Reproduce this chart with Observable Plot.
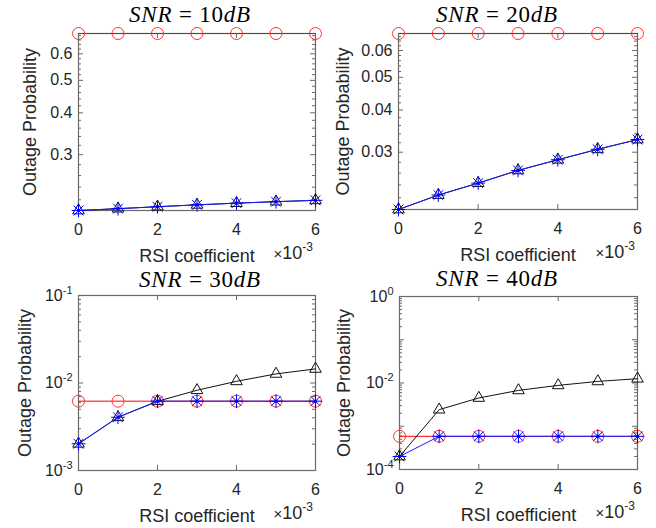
<!DOCTYPE html>
<html>
<head>
<meta charset="utf-8">
<script src="https://cdn.jsdelivr.net/npm/d3@7"></script>
<script src="https://cdn.jsdelivr.net/npm/@observablehq/plot@0.6"></script>
<style>
  body { margin: 0; background: #fff; }
  #fig { position: relative; width: 656px; height: 528px; background: #fff; overflow: hidden; }
  #fig svg { position: absolute; }
</style>
</head>
<body>
<div id="fig"></div>
<script>
// ---------------- data ----------------
const rsiCoef = [0, 1, 2, 3, 4, 5, 6];          // RSI coefficient (x 10^-3)
const xTickValues = [0, 2, 4, 6];
const snrTitles = ["10", "20", "30", "40"];     // SNR in dB

// SNR = 10 dB
const circle10   = [0.69, 0.69, 0.69, 0.69, 0.69, 0.69, 0.69];
const triangle10 = [0.2044, 0.2070, 0.2098, 0.2125, 0.2150, 0.2172, 0.2192];
const star10     = [0.2044, 0.2070, 0.2098, 0.2125, 0.2150, 0.2172, 0.2192];
// SNR = 20 dB
const circle20   = [0.0674, 0.0674, 0.0674, 0.0674, 0.0674, 0.0674, 0.0674];
const triangle20 = [0.0203, 0.0224, 0.0243, 0.0265, 0.0285, 0.0306, 0.0327];
const star20     = [0.0203, 0.0224, 0.0243, 0.0265, 0.0285, 0.0306, 0.0327];
// SNR = 30 dB
const circle30   = [0.0062, 0.0062, 0.0062, 0.0062, 0.0062, 0.0062, 0.0062];
const triangle30 = [0.00202, 0.00406, 0.00618, 0.00826, 0.01045, 0.0127, 0.01449];
const star30     = [0.00202, 0.00406, 0.0062, 0.0062, 0.0062, 0.0062, 0.0062];
// SNR = 40 dB
const circle40   = [0.000585, 0.000585, 0.000585, 0.000585, 0.000585, 0.000585, 0.000585];
const triangle40 = [0.0002, 0.00242, 0.00451, 0.00675, 0.00881, 0.01089, 0.01257];
const star40     = [0.0002, 0.000585, 0.000585, 0.000585, 0.000585, 0.000585, 0.000585];

// y tick labels
const yTickLabels10 = [0.3, 0.4, 0.5, 0.6];
const yTickLabels20 = [0.03, 0.04, 0.05, 0.06];
const yTickLabels30 = [1e-3, 1e-2, 1e-1];
const yTickLabels40 = [1e-4, 1e-2, 1e0];

// ---------------- layout / style ----------------
const axisColor = "#6a6a6a";
const textColor = "#262626";
const sansFont = "Arial, 'Liberation Sans', Helvetica, sans-serif";
const serifFont = "'Liberation Serif', 'Times New Roman', serif";

function decadeMinors(lo, hi) {
  const out = [];
  for (let e = lo; e < hi; e++) for (let m = 2; m <= 9; m++) out.push(m * Math.pow(10, e));
  return out;
}
function decades(lo, hi) { return d3.range(lo, hi + 1).map(e => Math.pow(10, e)); }

const panels = [
  { snr: snrTitles[0], circ: circle10, tri: triangle10, star: star10,
    left: 0, top: 0, m: [33, 13, 54, 78], ylabDx: 48, titleX: 190, titleY: 22,
    yDomain: d3.extent([...circle10, ...triangle10, ...star10]),
    labels: yTickLabels10, major: yTickLabels10,
    minor: d3.range(0.22, 0.69, 0.02).filter(v => !yTickLabels10.some(t => Math.abs(t - v) < 1e-6)),
    fmt: d => String(d) },
  { snr: snrTitles[1], circ: circle20, tri: triangle20, star: star20,
    left: 328, top: 0, m: [33, 19, 55, 70], ylabDx: 55, titleX: 169, titleY: 22,
    yDomain: d3.extent([...circle20, ...triangle20, ...star20]),
    labels: yTickLabels20, major: yTickLabels20,
    minor: d3.range(0.022, 0.067, 0.002).filter(v => !yTickLabels20.some(t => Math.abs(t - v) < 1e-7)),
    fmt: d => String(d) },
  { snr: snrTitles[2], circ: circle30, tri: triangle30, star: star30,
    left: 0, top: 264, m: [31, 13, 58, 78], ylabDx: 53, titleX: 200, titleY: 23,
    yDomain: [1e-3, 1e-1],
    labels: yTickLabels30, major: decades(-3, -1), minor: decadeMinors(-3, -1),
    fmt: d => "10^" + Math.round(Math.log10(d)) },
  { snr: snrTitles[3], circ: circle40, tri: triangle40, star: star40,
    left: 328, top: 264, m: [32, 19, 59, 71], ylabDx: 55, titleX: 169, titleY: 22,
    yDomain: [1e-4, 1],
    labels: yTickLabels40, major: decades(-4, 0), minor: decadeMinors(-4, 0),
    fmt: d => "10^" + Math.round(Math.log10(d)) }
];

const fig = document.getElementById("fig");
const W = 328, H = 264;
const majorLen = 5, minorLen = 3;

for (const p of panels) {
  const rows = rsiCoef.map((x, i) => ({ x, circ: p.circ[i], tri: p.tri[i], star: p.star[i] }));
  const fw = W - p.m[1] - p.m[3];   // frame width
  const fh = H - p.m[0] - p.m[2];   // frame height
  const tk = { stroke: axisColor, strokeWidth: 1 };
  const svg = Plot.plot({
    width: W, height: H,
    marginTop: p.m[0], marginRight: p.m[1], marginBottom: p.m[2], marginLeft: p.m[3],
    style: { fontFamily: sansFont, background: "white", overflow: "visible" },
    x: { domain: [0, 6], axis: null },
    y: { type: "log", domain: p.yDomain, axis: null },
    marks: [
      // inward ticks on all four sides
      Plot.tickX(xTickValues, { ...tk, x: d => d, insetTop: fh - majorLen }),
      Plot.tickX(xTickValues, { ...tk, x: d => d, insetBottom: fh - majorLen }),
      Plot.tickY(p.major, { ...tk, y: d => d, insetRight: fw - majorLen }),
      Plot.tickY(p.major, { ...tk, y: d => d, insetLeft: fw - majorLen }),
      Plot.tickY(p.minor, { ...tk, y: d => d, insetRight: fw - minorLen }),
      Plot.tickY(p.minor, { ...tk, y: d => d, insetLeft: fw - minorLen }),
      Plot.frame({ stroke: axisColor, strokeWidth: 1.2 }),
      // tick labels
      Plot.text(xTickValues, { x: d => d, frameAnchor: "bottom", dy: 13, lineAnchor: "top",
        textAnchor: "middle", text: d => String(d), fontSize: 16, fill: textColor }),
      Plot.text(p.labels, { y: d => d, frameAnchor: "left", dx: -6, textAnchor: "end",
        lineAnchor: "middle", text: p.fmt, fontSize: 16, fill: textColor }),
      // axis titles
      Plot.text(["Outage Probability"], { frameAnchor: "left", rotate: -90, dx: -p.ylabDx,
        textAnchor: "middle", lineAnchor: "middle", fontSize: 18, fill: textColor }),
      Plot.text(["RSI coefficient"], { frameAnchor: "bottom", dy: 51, textAnchor: "middle",
        lineAnchor: "bottom", fontSize: 18, fill: textColor }),
      // series: circles (red)
      Plot.line(rows, { x: "x", y: "circ", stroke: "#ff0000", strokeWidth: 1 }),
      Plot.dot(rows, { x: "x", y: "circ", r: 6, fill: "none", stroke: "#ff3030", strokeWidth: 1 }),
      // series: triangles (black)
      Plot.line(rows, { x: "x", y: "tri", stroke: "#111", strokeWidth: 1 }),
      Plot.dot(rows, { x: "x", y: "tri", symbol: "triangle", r: 4.3, fill: "none", stroke: "#111", strokeWidth: 1 }),
      // series: stars (blue)
      Plot.line(rows, { x: "x", y: "star", stroke: "#1a1aff", strokeWidth: 1 }),
      Plot.dot(rows, { x: "x", y: "star", symbol: "plus", r: 4.5, fill: "none", stroke: "#0000ff", strokeWidth: 1 }),
      Plot.dot(rows, { x: "x", y: "star", symbol: "times", r: 4.5, fill: "none", stroke: "#0000ff", strokeWidth: 1 }),
      Plot.dot(rows, { x: "x", y: "star", r: 1.6, fill: "#0000ff", stroke: "none" })
    ]
  });

  // power-of-ten tick labels with superscript exponents
  svg.querySelectorAll("text").forEach(t => {
    const mm = (t.textContent || "").trim().match(/^10\^(-?\d+)$/);
    if (mm) {
      while (t.firstChild) t.removeChild(t.firstChild);
      const base = document.createElementNS("http://www.w3.org/2000/svg", "tspan");
      base.textContent = "10";
      const sup = document.createElementNS("http://www.w3.org/2000/svg", "tspan");
      sup.textContent = mm[1];
      sup.setAttribute("font-size", "11");
      sup.setAttribute("dy", "-7");
      t.appendChild(base); t.appendChild(sup);
    }
  });

  const s = d3.select(svg);
  // title with math italics
  const title = s.append("text")
    .attr("x", p.titleX).attr("y", p.titleY)
    .attr("text-anchor", "middle")
    .attr("font-family", serifFont)
    .attr("font-size", 23)
    .attr("letter-spacing", "0.8px")
    .attr("fill", "#000");
  title.append("tspan").attr("font-style", "italic").text("SNR");
  title.append("tspan").text(" = " + p.snr);
  title.append("tspan").attr("font-style", "italic").text("dB");

  // x10^-3 multiplier
  const mult = s.append("text")
    .attr("x", W - p.m[1] - 2).attr("y", H - p.m[2] + 49)
    .attr("text-anchor", "end")
    .attr("font-family", sansFont)
    .attr("font-size", 18)
    .attr("fill", textColor);
  mult.append("tspan").attr("font-size", 15).text("×");
  mult.append("tspan").text("10");
  mult.append("tspan").attr("font-size", 12).attr("dy", -8).text("-3");

  svg.style.left = p.left + "px";
  svg.style.top = p.top + "px";
  fig.appendChild(svg);
}
</script>
</body>
</html>
